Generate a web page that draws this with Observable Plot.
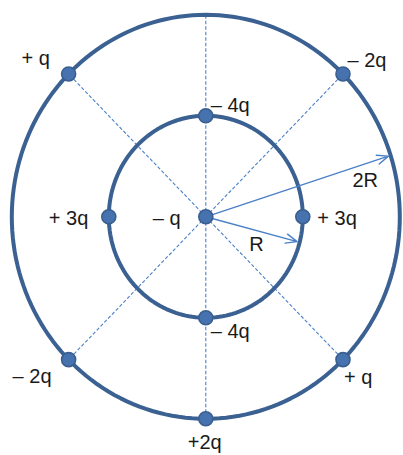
<!DOCTYPE html>
<html><head><meta charset="utf-8">
<script src="https://cdn.jsdelivr.net/npm/d3@7"></script>
<script src="https://cdn.jsdelivr.net/npm/@observablehq/plot@0.6"></script>
<style>body{margin:0;background:#fff}</style>
</head><body><div id="chart"></div>
<script>
// ---- data ----
const charges    = ["– q", "– 4q", "+ 3q", "+ 3q", "– 4q", "+ q", "– 2q", "– 2q", "+ q", "+2q"];
const ringRadius = [0, 1, 1, 1, 1, 2, 2, 2, 2, 2];          // in units of R
const angleDeg   = [0, 90, 180, 0, 270, 135, 45, 225, 315, 270];
const rings      = [1, 2];
const guideAngles = [45, 90, 135, 225, 270, 315];
const arrowLabels = ["R", "2R"];
const arrowLength = [0.973, 1.976];
const arrowAngle  = [-14.6, 17.7];

// ---- layout (pixel offsets of labels, baseline-left) ----
const labelDx = [-53, 5, -60, 14.5, 5, -47, 4.5, -56, 1, -18];
const labelDy = [7.7, -4.3, 7.7, 7.7, 20.3, -8.6, -7, 23.3, 24.3, 30];
const arrowLabelDx = [-48, -36];
const arrowLabelDy = [9, 30.8];

const W = 403, H = 455;
const xRange = [11.3, 399.3], yRange = [418.3, 14.3];
const pxX = (xRange[1] - xRange[0]) / 4, pxY = (yRange[0] - yRange[1]) / 4;
const rad = d => d * Math.PI / 180;

const pts = charges.map((c, i) => ({
  label: c,
  x: ringRadius[i] * Math.cos(rad(angleDeg[i])),
  y: ringRadius[i] * Math.sin(rad(angleDeg[i])),
  lx: ringRadius[i] * Math.cos(rad(angleDeg[i])) + labelDx[i] / pxX,
  ly: ringRadius[i] * Math.sin(rad(angleDeg[i])) - labelDy[i] / pxY
}));

const circlePts = rings.flatMap(r => d3.range(0, 361, 2).map(a => ({ring: r, x: r * Math.cos(rad(a)), y: r * Math.sin(rad(a))})));
const guides = guideAngles.map(a => ({x1: 0, y1: 0, x2: 2 * Math.cos(rad(a)), y2: 2 * Math.sin(rad(a))}));
const arrows = arrowLabels.map((l, i) => {
  const x2 = arrowLength[i] * Math.cos(rad(arrowAngle[i]));
  const y2 = arrowLength[i] * Math.sin(rad(arrowAngle[i]));
  return {label: l, x1: 0, y1: 0, x2, y2, lx: x2 + arrowLabelDx[i] / pxX, ly: y2 - arrowLabelDy[i] / pxY};
});

const font = "Liberation Sans, Arial, sans-serif";
const chart = Plot.plot({
  width: W, height: H, margin: 0,
  x: {domain: [-2, 2], range: xRange, axis: null},
  y: {domain: [-2, 2], range: yRange, axis: null},
  style: {background: "#fff", fontFamily: font},
  marks: [
    Plot.link(guides, {x1: "x1", y1: "y1", x2: "x2", y2: "y2", stroke: "#4a80c8", strokeWidth: 1.1, strokeDasharray: "3.5,2"}),
    Plot.line(circlePts, {x: "x", y: "y", z: "ring", stroke: "#3a6192", strokeWidth: 4}),
    Plot.arrow(arrows, {x1: "x1", y1: "y1", x2: "x2", y2: "y2", stroke: "#4a80c8", strokeWidth: 1.4, headLength: 13, headAngle: 45, bend: 0}),
    Plot.dot(pts, {x: "x", y: "y", r: 7, fill: "#4673b0", stroke: "#3a5f8f", strokeWidth: 1.6}),
    Plot.text(pts, {x: "lx", y: "ly", text: "label", textAnchor: "start", lineAnchor: "bottom", fontSize: 20, fill: "#1a1a1a", fontFamily: font}),
    Plot.text(arrows, {x: "lx", y: "ly", text: "label", textAnchor: "start", lineAnchor: "bottom", fontSize: 20, fill: "#1a1a1a", fontFamily: font})
  ]
});
document.getElementById("chart").appendChild(chart);
</script>
</body></html>
